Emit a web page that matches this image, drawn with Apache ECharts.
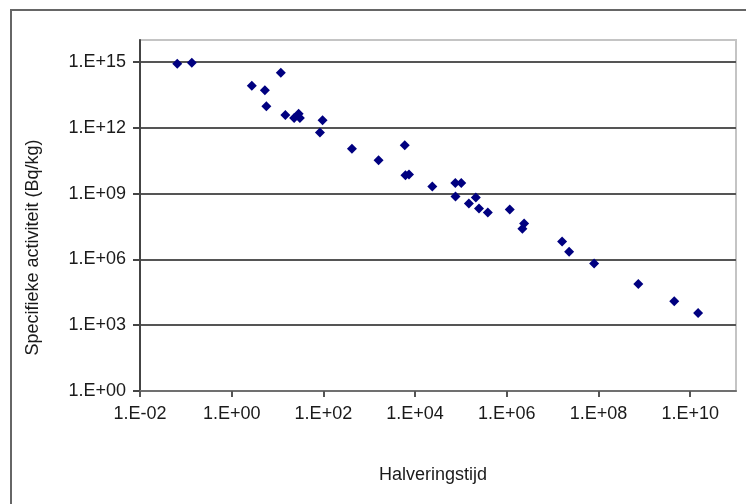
<!DOCTYPE html>
<html>
<head>
<meta charset="utf-8">
<script src="https://cdn.jsdelivr.net/npm/echarts@6/dist/echarts.min.js"></script>
<style>
  html, body { margin: 0; padding: 0; background: #fff; }
  #chart { width: 746px; height: 504px; }
</style>
</head>
<body>
<div id="chart"></div>
<script>
var halfLife = [0.065, 0.135, 2.75, 5.3, 11.8, 5.7, 14.8, 23, 28.8, 30.7, 96, 84,
  419, 1600, 5960, 6170, 7360, 23800, 75500, 101600, 76200, 211000, 149000,
  248000, 386000, 1.16e6, 2.39e6, 2.19e6, 1.61e7, 2.29e7, 8.05e7, 7.4e8, 4.5e9, 1.49e10];
var activity = [8.3e14, 9.3e14, 8.2e13, 5.1e13, 3.2e14, 9.6e12, 3.8e12, 2.8e12, 4.4e12, 2.8e12, 2.2e12, 6.0e11,
  1.1e11, 3.3e10, 1.6e11, 6.9e9, 7.3e9, 2.1e9, 3.0e9, 3.0e9, 7.4e8, 6.6e8, 3.5e8,
  2.1e8, 1.36e8, 1.86e8, 4.3e7, 2.5e7, 6.5e6, 2.24e6, 6.5e5, 7.6e4, 1.24e4, 3.6e3];
var xTicks = [1e-2, 1, 1e2, 1e4, 1e6, 1e8, 1e10];
var yTicks = [1, 1e3, 1e6, 1e9, 1e12, 1e15];

var points = halfLife.map(function (x, i) { return [x, activity[i]]; });

function sci(v) {
  var e = Math.round(Math.log10(v));
  var s = e < 0 ? '-' : '+';
  var a = Math.abs(e);
  return '1.E' + s + (a < 10 ? '0' + a : a);
}

var font = "'Liberation Sans', Arial, sans-serif";
var chart = echarts.init(document.getElementById('chart'));
chart.setOption({
  animation: false,
  backgroundColor: '#fff',
  textStyle: { fontFamily: font },
  graphic: [{
    type: 'rect',
    shape: { x: 11, y: 10, width: 800, height: 600 },
    style: { fill: 'none', stroke: '#666', lineWidth: 2 },
    z: -1
  }],
  grid: {
    left: 140,
    top: 40,
    right: 10,
    bottom: 113,
    show: true,
    borderColor: '#c4c4c4',
    borderWidth: 2
  },
  xAxis: {
    type: 'log',
    min: 1e-2,
    max: 1e11,
    name: 'Halveringstijd',
    nameLocation: 'middle',
    nameGap: 75,
    nameTextStyle: { fontSize: 18, color: '#1a1a1a', fontFamily: font, padding: [0, 10, 0, 0] },
    axisLine: { lineStyle: { color: '#707070', width: 2 } },
    axisTick: { customValues: xTicks, length: 6, lineStyle: { color: '#555', width: 2 } },
    axisLabel: {
      customValues: xTicks,
      formatter: sci,
      fontSize: 18,
      color: '#1a1a1a',
      margin: 14,
      fontFamily: font
    },
    splitLine: { show: false },
    minorTick: { show: false }
  },
  yAxis: {
    type: 'log',
    min: 1,
    max: 1e16,
    name: 'Specifieke activiteit (Bq/kg)',
    nameLocation: 'middle',
    nameGap: 98,
    nameTextStyle: { fontSize: 18, color: '#1a1a1a', fontFamily: font, padding: [0, 64, 0, 0] },
    axisLine: { lineStyle: { color: '#444', width: 2 } },
    axisTick: { customValues: yTicks, length: 7, lineStyle: { color: '#444', width: 2 } },
    axisLabel: {
      customValues: yTicks,
      formatter: sci,
      fontSize: 18,
      color: '#1a1a1a',
      margin: 14,
      fontFamily: font
    },
    splitLine: { show: true, lineStyle: { color: '#555', width: 2 } }
  },
  series: [{
    type: 'scatter',
    symbol: 'diamond',
    symbolSize: 10,
    itemStyle: { color: '#000080', opacity: 1 },
    data: points
  }]
});
</script>
</body>
</html>
